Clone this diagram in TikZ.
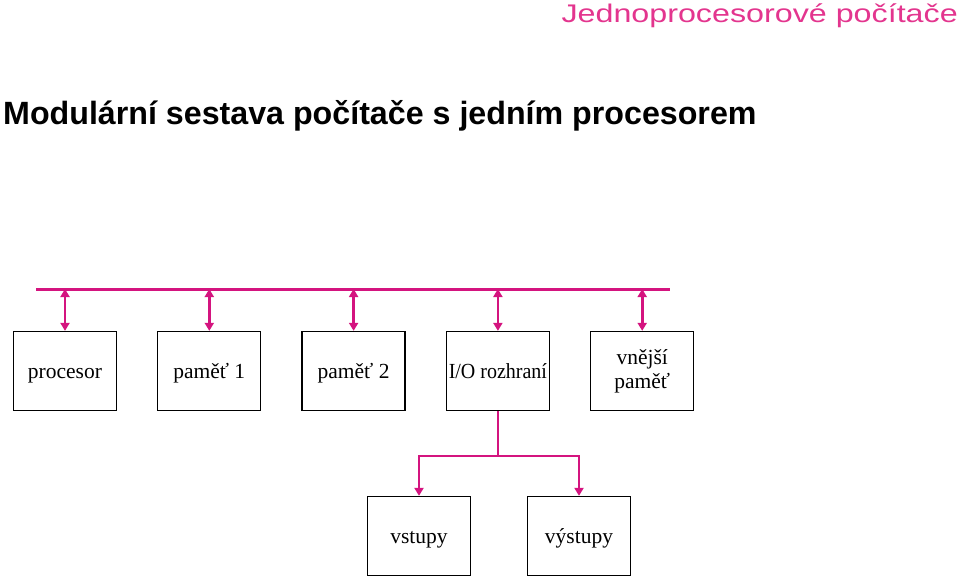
\documentclass[tikz,border=0pt]{standalone}
\usepackage{fontspec}
\setmainfont{Liberation Serif}
\setsansfont{Liberation Sans}
\usetikzlibrary{arrows.meta,positioning}
\definecolor{busmag}{HTML}{D4147F}
\definecolor{headmag}{HTML}{E3358E}

\begin{document}
\begin{tikzpicture}[
  x=1pt,y=-1pt,
  font=\fontsize{21.5}{24}\selectfont,
  unit/.style={draw=black,line width=1.3pt,minimum width=103pt,minimum height=79pt,
               inner sep=1pt,align=center,fill=white},
  one/.style={unit,text height=14pt,text depth=0pt},
  bus/.style={draw=busmag,line width=3pt},
  link/.style={draw=busmag,line width=2.6pt},
  arr/.style={link,-{Triangle[length=8pt,width=9pt]}},
  biarr/.style={link,{Triangle[length=8pt,width=9pt]}-{Triangle[length=8pt,width=9pt]}},
  node distance=40pt,
]
\useasboundingbox (0,0) rectangle (960,577);

\node[font=\sffamily\fontsize{25.5}{28}\selectfont,text=headmag,anchor=base east,inner sep=0pt]
  (head) at (958,23) {\scalebox{1.265}[1]{Jednoprocesorové počítače}};
\node[font=\sffamily\bfseries\fontsize{32.2}{36}\selectfont,anchor=base west,inner sep=0pt]
  (title) at (3,125) {Modulární sestava počítače s jedním procesorem};

\node[one] (cpu) at (65,371) {procesor};
\node[one,right=of cpu] (mem1) {paměť 1};
\node[one,right=of mem1] (mem2) {paměť 2};
\node[one,right=of mem2] (io) {\scalebox{0.93}[1]{I/O rozhraní}};
\node[unit,right=of io] (ext) {vnější\\paměť};

\coordinate (busL) at (36,289);
\coordinate (busR) at (670,289);
\draw[bus] (busL) -- (busR);

\foreach \n in {cpu,mem1,mem2,io,ext}
  \draw[biarr] (\n.north |- busL) -- (\n.north);

\node[one] (inp) at (419,536) {vstupy};
\node[one] (outp) at (579,536) {výstupy};

\coordinate (split) at (io.south |- 0,456);
\draw[link] (io.south) -- (split);
\draw[arr] (split) -| (inp.north);
\draw[arr] (split) -| (outp.north);

\end{tikzpicture}
\end{document}
